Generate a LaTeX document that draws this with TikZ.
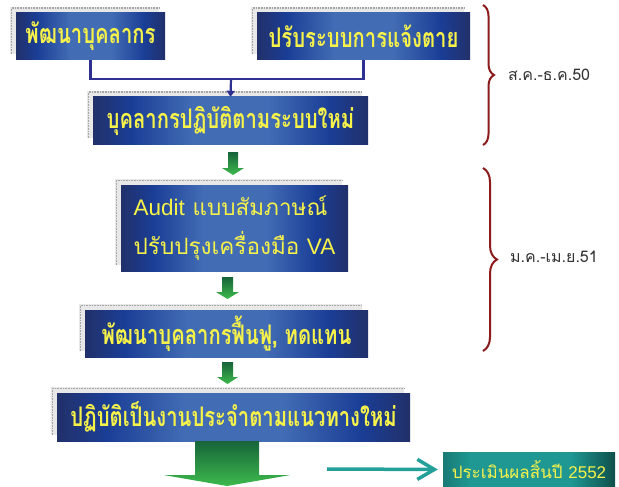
\documentclass[tikz,border=0pt]{standalone}
\usepackage{fontspec}
\usetikzlibrary{arrows.meta,decorations.pathreplacing,backgrounds,calc}
\newfontfamily\thai[Script=Thai]{Loma}
\newfontfamily\thaicond[Script=Thai,FakeStretch=0.75]{Loma}
\newfontfamily\arial{Liberation Sans}
\definecolor{navyd}{HTML}{22306A}
\definecolor{blueb}{HTML}{1A3E96}
\definecolor{bluel}{HTML}{426CB4}
\definecolor{txty}{HTML}{F7F24A}
\definecolor{connc}{HTML}{2E3192}
\definecolor{bracec}{HTML}{8B1A1A}
\definecolor{labc}{HTML}{333333}
\definecolor{tealc}{HTML}{23A09A}
\definecolor{tealdk}{HTML}{0F4F4B}
\definecolor{tealm}{HTML}{1F9893}
\definecolor{tealedge}{HTML}{187A75}
\definecolor{gdark}{HTML}{17643A}
\definecolor{glight}{HTML}{3DBA4C}
\definecolor{shadowc}{HTML}{E8E8E8}
\pgfdeclarehorizontalshading{boxshade}{100bp}{color(0bp)=(navyd); color(25bp)=(navyd); color(32bp)=(blueb); color(43bp)=(bluel); color(57bp)=(bluel); color(68bp)=(blueb); color(75bp)=(navyd); color(100bp)=(navyd)}
\pgfdeclarehorizontalshading{tealshade}{100bp}{color(0bp)=(tealedge); color(25bp)=(tealedge); color(33bp)=(tealm); color(62bp)=(tealm); color(75bp)=(tealdk); color(100bp)=(tealdk)}
\tikzset{
  bluebox/.style={shading=boxshade, text=txty, inner sep=0pt, align=center,
    font=\thaicond\bfseries\fontsize{27}{30}\selectfont},
  tealbox/.style={shading=tealshade, text=txty, inner sep=0pt,
    font=\thai\fontsize{17}{20}\selectfont},
  conn/.style={draw=connc, line width=2.2pt},
  connarr/.style={conn, -{Triangle[length=6pt,width=8pt]}},
  tealarr/.style={draw=tealc, line width=3.5pt, -{Straight Barb[length=17pt,width=20pt]}, shorten >=5pt},
  bracepath/.style={draw=bracec, line width=2pt, decorate, decoration={brace, amplitude=#1}},
  label/.style={text=labc, font=\thai\fontsize{16}{19}\selectfont, anchor=west, inner sep=0pt},
  greenfill/.style={top color=gdark, bottom color=glight},
}
\newcommand\greenarrow[6]{%
  \shade[greenfill] ({#1-#4},#2) -- ({#1+#4},#2) -- ({#1+#4},{#3-#6}) -- ({#1+#5},{#3-#6})
    -- (#1,#3) -- ({#1-#5},{#3-#6}) -- ({#1-#4},{#3-#6}) -- cycle;}
\begin{document}
\begin{tikzpicture}[x=1pt,y=-1pt]
\useasboundingbox (0,0) rectangle (619,487);
% boxes
\node[bluebox, minimum width=149pt, minimum height=47pt] (b1) at (90.5,36.5) {พัฒนาบุคลากร};
\node[bluebox, minimum width=213pt, minimum height=47pt] (b2) at (363.5,36.5) {ปรับระบบการแจ้งตาย};
\node[bluebox, minimum width=275pt, minimum height=47pt] (b3) at (230.5,120.5) {บุคลากรปฏิบัติตามระบบใหม่};
\node[bluebox, minimum width=227pt, minimum height=86pt, align=left, font=\thai\fontsize{22.5}{39}\selectfont] (b4) at (234.5,228) {{\arial Audit} แบบสัมภาษณ์\\ปรับปรุงเครื่องมือ {\arial VA}};
\node[bluebox, minimum width=283pt, minimum height=47pt] (b5) at (226.5,333.5) {พัฒนาบุคลากรฟื้นฟู, ทดแทน};
\node[bluebox, minimum width=353pt, minimum height=48pt] (b6) at (233.5,417) {ปฏิบัติเป็นงานประจำตามแนวทางใหม่};
\node[tealbox, minimum width=172pt, minimum height=35pt] (tb) at (529,469.5) {ประเมินผลสิ้นปี {\arial 2552}};
% shadows
\begin{scope}[on background layer]
\foreach \n in {b1,b2,b3,b4,b5,b6}{
  \fill[shadowc] ([shift={(-6,-6)}]\n.north west) rectangle ([shift={(-6,-6)}]\n.south east);
  \draw[gray!70, line width=1.6pt, dash pattern=on 0.8pt off 0.8pt]
    ([shift={(-4.5,-6)}]\n.south west) -- ([shift={(-4.5,-4.5)}]\n.north west) -- ([shift={(-6,-4.5)}]\n.north east);
}
\end{scope}
% connectors
\coordinate (j) at (231,79);
\draw[conn] (b1.south) |- (j) -| (b2.south);
\draw[connarr] (j) -- (b3.north);
% green arrows
\greenarrow{233}{152}{175}{5}{11}{7}
\greenarrow{227.5}{277}{299}{5.5}{11.5}{7}
\greenarrow{227.5}{362}{384}{5.5}{10.5}{7}
\greenarrow{227}{441}{486}{32}{63.5}{11}
% teal arrow
\coordinate (ts) at (327,469);
\draw[tealarr] (ts) -- (tb.west);
% braces
\draw[bracepath=11pt] (483,5) -- (483,145);
\draw[bracepath=14pt] (483,168) -- (483,351);
\node[label] (l1) at (508,75) {ส.ค.-ธ.ค.50};
\node[label] (l2) at (510,257) {ม.ค.-เม.ย.51};
\end{tikzpicture}
\end{document}
